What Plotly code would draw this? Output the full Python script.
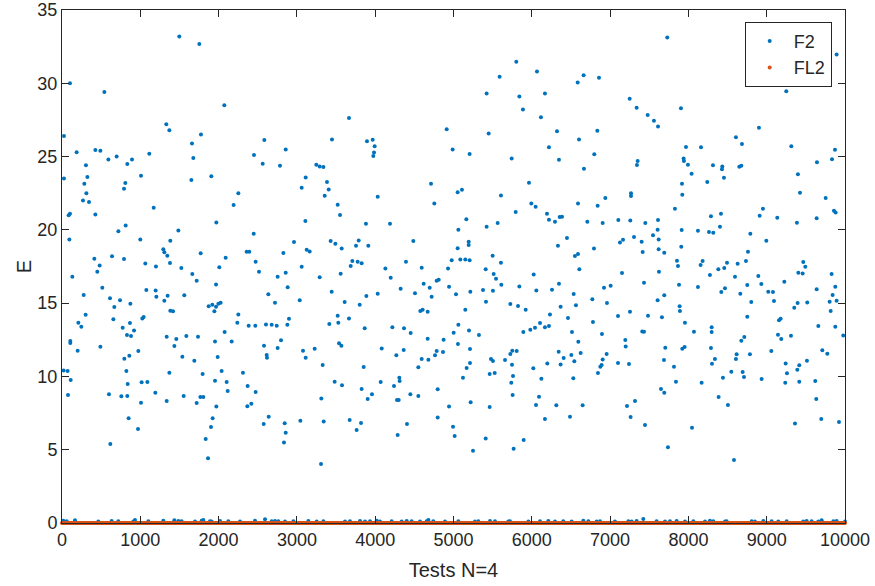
import plotly.graph_objects as go

# ---------------- data ----------------
# F2 scatter, region by region (x = test index, y = E)
f2_tests_a = [1498, 1754, 102, 541, 2073, 1332, 1371, 1775, 25, 1660,
              187, 426, 490, 2452, 698, 1115, 592, 894, 306, 834,
              1677, 25, 324, 1009, 1652, 1907, 285, 809, 792, 311,
              2252, 268, 345, 2192, 1171, 85, 102, 426, 1971, 813,
              720, 1486, 2448, 94, 1000, 1383, 1294, 1307, 1345, 1771,
              2358, 2392, 413, 639, 792, 2090, 2473, 481, 1064, 1200,
              1379, 1524, 2009]
f2_values_a = [33.2, 32.68, 30.0, 29.4, 28.5, 27.2, 26.8, 26.5, 26.4, 25.9,
               25.3, 25.45, 25.4, 25.1, 25.0, 25.2, 24.8, 24.8, 24.4, 24.5,
               24.9, 23.5, 23.6, 23.7, 23.4, 23.65, 23.15, 23.2, 22.8, 22.5,
               22.5, 22.0, 21.9, 21.7, 21.5, 21.0, 21.1, 21.04, 20.5, 20.3,
               19.9, 19.95, 19.74, 19.35, 19.35, 19.26, 18.67, 18.47, 18.24, 18.4,
               18.5, 18.5, 18.03, 18.2, 18.01, 18.1, 17.83, 17.56, 17.7, 17.5,
               17.74, 17.4, 17.45]

f2_tests_b = [2516, 132, 451, 1664, 1720, 515, 277, 1077, 1196, 1205,
              1349, 1562, 1967, 613, 741, 873, 1307, 668, 1383, 1418,
              1873, 1920, 1967, 1997, 2026, 1946, 302, 1026, 1043, 656,
              2252, 2239, 2384, 2469, 209, 247, 868, 775, 920, 830,
              881, 1337, 1460, 1588, 1737, 2077, 106, 106, 490, 1435,
              1954, 2167, 200, 975, 860, 796, 1537, 1690, 1988, 21,
              72, 111, 822, 1371, 1796, 2039, 2311, 1954, 2103, 1017,
              1090, 839, 2371, 2116, 2473, 77, 600, 1192, 758, 834,
              1554, 1767, 1805, 1337, 1720, 1009, 2418, 2367, 1971, 1924,
              851, 1903, 971, 1835, 617, 1865]
f2_values_b = [17.15, 16.8, 17.15, 16.99, 16.53, 16.05, 15.55, 15.9, 15.87, 15.44,
               15.5, 15.53, 16.28, 15.33, 15.2, 14.96, 15.17, 14.73, 14.48, 14.44,
               14.78, 14.89, 14.76, 14.96, 15.03, 14.44, 14.21, 13.96, 14.05, 13.9,
               14.23, 13.67, 13.46, 13.46, 13.67, 13.39, 13.64, 13.32, 13.14, 12.82,
               12.76, 12.71, 12.55, 12.76, 12.71, 13.03, 12.42, 12.28, 12.03, 12.07,
               12.39, 12.39, 11.76, 11.73, 11.41, 11.21, 11.35, 11.07, 11.32, 10.41,
               10.37, 9.75, 10.37, 10.25, 10.16, 10.37, 10.25, 9.71, 9.62, 9.6,
               9.62, 9.48, 9.35, 9.0, 8.94, 8.73, 8.78, 8.89, 8.64, 8.66,
               8.66, 8.6, 8.6, 8.32, 8.19, 8.21, 8.14, 7.96, 7.94, 7.14,
               7.14, 6.55, 6.41, 5.73, 5.39, 4.41]

f2_tests_c = [3665, 4913, 2584, 3448, 3895, 3968, 3993, 3985, 3976, 2857,
              4989, 2563, 2784, 3248, 3291, 3338, 3112, 3384, 3061, 3406,
              3355, 4032, 4713, 5053, 4755, 3521, 3551, 3108, 3882, 4189,
              5062, 2963, 3431, 3491, 3789, 3755, 3912, 4487, 3572, 3125,
              3163, 2827, 5053, 3061, 3687, 3708, 3776, 3827, 4130, 4393,
              4594, 4930, 4977]
f2_values_c = [27.63, 26.86, 26.13, 26.17, 26.04, 26.15, 25.7, 25.27, 25.04, 25.49,
               25.49, 24.51, 24.38, 24.45, 24.33, 24.29, 23.58, 23.26, 22.88, 22.76,
               22.33, 22.26, 23.15, 22.56, 21.79, 21.72, 21.01, 20.6, 20.42, 20.42,
               20.01, 19.17, 19.24, 19.06, 19.28, 18.92, 18.92, 19.24, 18.72, 18.65,
               18.53, 18.42, 18.74, 17.49, 17.53, 17.87, 17.83, 17.72, 17.37, 17.83,
               17.42, 17.37, 17.92]

f2_tests_d = [2857, 2754, 3291, 3559, 4198, 4619, 4785, 4811, 4943,
              2882, 2635, 3444, 3887, 4032, 4325, 4508, 4696, 4721, 5032,
              2720, 3036, 3610, 3802, 4576, 4606, 4670, 3521, 3665, 2899,
              2605, 2678, 2742, 2878, 3414, 3529, 3866, 4219, 4368,
              4453, 5062, 5002, 5057, 4670, 4874, 2580, 2797, 2754, 3538,
              3568, 3078, 3227, 2614, 2618, 3112, 4083, 4364, 4270, 4594,
              4679, 4764, 4785, 4866, 3329, 3853, 4551, 4308, 4312, 3482,
              3576, 4070, 4240, 3827, 4798, 3959, 3904, 4449, 4551,
              3312, 4278, 4300, 4943, 2640, 2576, 2844, 3044, 3342, 3674,
              3819, 4798, 4994, 5015, 2857, 3763, 4406, 4287, 2835, 3308]
f2_values_d = [17.08, 16.8, 16.76, 17.01, 16.74, 16.33, 16.53, 16.6, 16.12,
               16.08, 15.6, 15.78, 15.49, 15.64, 15.99, 15.67, 16.05, 15.44, 15.6,
               15.03, 15.19, 15.08, 14.89, 14.46, 14.55, 14.42, 14.14, 13.96, 13.94,
               13.55, 13.53, 13.46, 13.53, 13.57, 13.67, 13.28, 13.35, 13.28,
               12.96, 13.53, 12.98, 12.21, 12.57, 12.51, 12.1, 12.46, 11.94, 12.26,
               12.1, 11.76, 11.89, 11.46, 11.28, 11.28, 11.91, 11.8, 11.44, 11.19,
               11.14, 11.44, 11.73, 11.66, 10.78, 10.64, 10.62, 9.91, 9.69, 9.64,
               9.39, 9.62, 9.35, 9.14, 9.12, 8.78, 8.46, 8.78, 8.66,
               8.5, 8.39, 8.39, 7.94, 7.25, 6.75, 6.8, 6.98, 6.93, 7.03,
               6.82, 7.19, 6.57, 5.93, 6.16, 6.34, 6.75, 6.0, 5.5, 4.02]

f2_tests_e = [5802, 5589, 6066, 5423, 5841, 6168, 6586, 6662, 6858, 7250,
              7339, 7480, 7560, 7612, 5887, 6117, 5449, 6322, 6603, 6837,
              6219, 5206, 5743, 6347, 6798, 6666, 7352, 7343, 5964, 5108,
              5606, 7267, 7267, 6939, 5994, 6049, 6590, 6841, 5794, 6194,
              5164, 6219, 6296, 6356, 6386, 6709, 6905, 7105, 7258, 7450,
              7612, 5423, 5564, 7607, 5194, 5194, 6449, 6334, 7126, 7165,
              7305, 7403, 7548, 7620, 6794, 7620, 5500, 6551, 6590, 7416,
              5087, 5151, 5206, 5606, 5411, 6607]
f2_values_e = [31.47, 30.45, 30.81, 29.31, 29.09, 29.31, 30.06, 30.54, 30.38, 28.95,
               28.33, 27.83, 27.45, 27.06, 28.22, 27.68, 26.58, 26.72, 26.17, 26.77,
               25.63, 25.17, 24.86, 24.79, 25.15, 24.17, 24.7, 24.42, 23.22, 22.74,
               22.35, 22.49, 22.31, 22.17, 21.79, 21.58, 21.79, 21.65, 21.22, 21.1,
               20.72, 20.69, 20.56, 20.88, 20.9, 20.56, 20.47, 20.67, 20.63, 20.47,
               20.67, 20.22, 20.47, 20.01, 19.19, 18.97, 19.44, 18.92, 19.13, 19.33,
               19.51, 19.19, 19.63, 19.35, 18.72, 18.67, 18.24, 18.22, 18.35, 18.49,
               17.97, 17.97, 17.92, 17.76, 17.31, 17.31]

f2_tests_f = [5513, 5543, 6024, 7152, 7624, 5611, 7433, 5215, 5377, 5504,
              5841, 6058, 6258, 6347, 6535, 6922, 7007, 6773, 6960, 7607,
              5415, 5726, 5824, 5922, 6368, 6564, 7254, 5151, 6232, 6462,
              7101, 7484, 6781, 6105, 6041, 5981, 5892, 6168, 6219, 5198,
              5325, 6513, 6896, 7411, 7433, 5211, 6594, 7194, 7199, 5726,
              5751, 5807, 6343, 6505, 6624, 6956, 5479, 5504, 5658, 6407,
              6543, 6905, 5211, 5747, 6198, 6368, 7101, 7241, 6892, 6875,
              5168, 6019, 5462, 5526, 6845, 5121, 5760, 5738, 6122, 6530,
              5755, 6092, 5219, 5462, 6054, 6313, 6649, 7216, 7318, 6168,
              6488, 7262, 7446, 5411, 5896, 5249, 5768]
f2_values_f = [16.99, 16.67, 16.96, 17.05, 17.15, 16.26, 16.39, 15.78, 15.89, 15.85,
               16.14, 15.87, 15.92, 16.33, 15.62, 16.05, 16.19, 15.26, 15.01, 15.19,
               15.1, 14.94, 14.8, 14.55, 14.76, 14.85, 14.42, 14.55, 14.23, 13.98,
               14.12, 14.14, 13.71, 13.64, 13.32, 13.19, 13.03, 13.35, 13.44, 13.14,
               12.82, 13.03, 12.89, 13.07, 13.05, 11.87, 12.37, 12.48, 12.05, 11.53,
               11.76, 11.73, 11.69, 11.46, 11.6, 11.53, 11.19, 11.05, 11.12, 11.26,
               11.03, 11.16, 10.91, 10.8, 10.89, 10.82, 10.91, 10.85, 10.78, 10.66,
               10.57, 10.55, 10.16, 10.23, 10.23, 9.91, 10.03, 9.57, 9.85, 9.87,
               8.73, 8.62, 8.23, 7.91, 8.05, 8.03, 8.03, 7.98, 8.32, 7.09,
               7.25, 7.23, 6.68, 5.77, 5.66, 4.93, 5.07]

f2_tests_g = [7730, 9893, 9250, 7905, 8901, 8607, 8684, 7969, 8161, 9314,
              9872, 9834, 9642, 7939, 7943, 7994, 8314, 8433, 8429, 8454,
              8650, 8676, 8041, 9399, 7918, 8241, 7922, 9425, 9753, 7828,
              8952, 9859, 9880, 8288, 8416, 8910, 9135, 9638, 9386, 7914,
              8122, 8263, 8318, 8403, 8791, 8995, 7909, 7692, 8761, 7854,
              7867, 8156, 8182, 8493, 8382, 8458, 8629, 8735, 9467, 9493]
f2_values_g = [33.13, 31.97, 29.45, 28.29, 26.97, 26.31, 25.86, 25.65, 25.63, 25.7,
               25.47, 24.81, 24.61, 24.86, 24.7, 24.45, 24.4, 24.33, 24.13, 23.56,
               24.31, 24.38, 23.83, 23.79, 23.15, 23.26, 22.4, 22.54, 22.17, 21.44,
               21.44, 21.31, 21.19, 20.92, 21.1, 20.97, 20.83, 20.79, 20.49, 19.99,
               19.94, 19.85, 19.81, 20.22, 19.74, 19.26, 18.85, 18.44, 18.51, 17.9,
               17.53, 17.6, 17.87, 17.76, 17.31, 17.4, 17.69, 17.87, 17.81, 17.49]

f2_tests_h = [8275, 8595, 8893, 9225, 9404, 9459, 9829, 7880, 8122, 8752,
              8931, 9876, 9638, 8420, 8467, 9020, 9080, 7692, 8663, 8803,
              9093, 9395, 9518, 9804, 9893, 9842, 7888, 7892, 9352, 9817,
              7662, 8752, 9157, 9178, 7956, 9659, 9876, 8297, 8297, 8071,
              9144, 9310, 9186, 9978, 8714, 8676, 7705, 7922, 7952, 8288,
              9059, 9710, 9774, 7688, 8339, 8301, 8616, 8607, 8786, 7816,
              9242, 9416, 9514, 9259, 9391, 8548, 8693, 8710, 8441, 8935,
              7841, 8169, 9237, 9416, 9620, 7650, 7692, 8386, 8505, 9633,
              9697, 9923, 9361, 8046, 7739, 8582]
f2_values_h = [16.92, 16.8, 16.85, 16.46, 17.08, 17.03, 16.99, 16.26, 16.1, 16.24,
               16.3, 16.12, 15.94, 15.76, 16.01, 15.78, 15.76, 15.53, 15.64, 15.08,
               15.14, 15.01, 15.05, 15.1, 15.17, 15.55, 14.78, 14.46, 14.69, 14.46,
               14.03, 14.08, 13.83, 13.94, 13.67, 13.44, 13.39, 13.35, 13.03, 13.05,
               12.85, 12.78, 12.55, 12.8, 12.69, 12.44, 11.96, 11.89, 12.01, 11.94,
               11.73, 11.78, 11.55, 11.12, 11.19, 10.87, 11.51, 11.19, 11.51, 10.66,
               10.89, 10.76, 11.07, 10.21, 10.46, 10.32, 10.3, 9.96, 9.91, 9.82,
               9.64, 9.57, 9.57, 9.64, 9.69, 9.14, 8.89, 8.6, 8.05, 8.46,
               7.09, 6.89, 6.78, 6.5, 5.16, 4.3]

# F2 tests whose E is (almost) zero, visible just above the FL2 band
f2_tests_zero = [17, 60, 166, 464, 634, 719, 911, 932, 1103, 1294,
                 1435, 1486, 1528, 1699, 1784, 1805, 1890, 1911, 2018, 2124,
                 2273, 2465, 2593, 2678, 2720, 2763, 2848, 2955, 3146, 3253,
                 3338, 3614, 3678, 3806, 3870, 3934, 4019, 4061, 4210, 4338,
                 4402, 4466, 4572, 4657, 4679, 4742, 4891, 5062, 5274, 5317,
                 5466, 5530, 5700, 5721, 5956, 6105, 6211, 6296, 6402, 6509,
                 6658, 6722, 6828, 6871, 7062, 7233, 7275, 7339, 7424, 7594,
                 7701, 7765, 7850, 7956, 8063, 8212, 8275, 8318, 8467, 8488,
                 8808, 8850, 8957, 9063, 9148, 9255, 9467, 9510, 9574, 9659,
                 9702, 9851, 9893, 10000]
f2_values_zero = [0.15, 0.12, 0.18, 0.1, 0.14, 0.12, 0.1, 0.2, 0.12, 0.15,
                  0.18, 0.14, 0.12, 0.1, 0.16, 0.2, 0.12, 0.1, 0.14, 0.12,
                  0.1, 0.15, 0.25, 0.12, 0.14, 0.12, 0.1, 0.12, 0.14, 0.1,
                  0.12, 0.1, 0.12, 0.14, 0.1, 0.12, 0.16, 0.1, 0.12, 0.1,
                  0.14, 0.12, 0.1, 0.12, 0.2, 0.12, 0.1, 0.12, 0.1, 0.12,
                  0.14, 0.12, 0.1, 0.12, 0.1, 0.12, 0.14, 0.1, 0.12, 0.1,
                  0.16, 0.12, 0.1, 0.12, 0.1, 0.12, 0.1, 0.14, 0.28, 0.12,
                  0.1, 0.12, 0.14, 0.1, 0.12, 0.1, 0.16, 0.12, 0.1, 0.12,
                  0.12, 0.1, 0.14, 0.12, 0.1, 0.12, 0.1, 0.14, 0.12, 0.1,
                  0.18, 0.12, 0.14, 0.1]

# FL2: every test sits at E = 0
fl2_tests = list(range(0, 10001, 10))
fl2_values = [0.0] * len(fl2_tests)

x_ticks = [0, 1000, 2000, 3000, 4000, 5000, 6000, 7000, 8000, 9000, 10000]
y_ticks = [0, 5, 10, 15, 20, 25, 30, 35]

# ---------------- assemble ----------------
f2_tests = (f2_tests_zero + f2_tests_a + f2_tests_b + f2_tests_c + f2_tests_d
            + f2_tests_e + f2_tests_f + f2_tests_g + f2_tests_h)
f2_values = (f2_values_zero + f2_values_a + f2_values_b + f2_values_c + f2_values_d
             + f2_values_e + f2_values_f + f2_values_g + f2_values_h)

BLUE = "#0072BD"
ORANGE = "#D95319"
INK = "#262626"
FONT = "Liberation Sans, Arial, sans-serif"

fig = go.Figure()
fig.add_trace(go.Scatter(
    x=f2_tests, y=f2_values, mode="markers", name="F2",
    marker=dict(color=BLUE, size=4, line=dict(width=0)),
    cliponaxis=False,
))
fig.add_trace(go.Scatter(
    x=fl2_tests, y=fl2_values, mode="markers", name="FL2",
    marker=dict(color=ORANGE, size=4, line=dict(width=0)),
    cliponaxis=False,
))

axis_common = dict(
    showline=True, linecolor=INK, linewidth=1, mirror="ticks",
    ticks="inside", ticklen=7, tickwidth=1, tickcolor=INK,
    showgrid=False, zeroline=False,
    tickfont=dict(family=FONT, size=18, color=INK),
)

fig.update_layout(
    width=875, height=586,
    paper_bgcolor="white", plot_bgcolor="white",
    margin=dict(l=62, r=30, t=10, b=63, autoexpand=False),
    font=dict(family=FONT, color=INK),
    showlegend=True,
    legend=dict(
        x=0.983, y=0.977, xanchor="right", yanchor="top",
        bgcolor="white", bordercolor=INK, borderwidth=1,
        font=dict(family=FONT, size=18, color=INK),
        itemsizing="trace", itemwidth=38,
    ),
    xaxis=dict(
        range=[0, 10000], tickvals=x_ticks, ticktext=[str(v) for v in x_ticks],
        title=dict(text="Tests N=4", font=dict(family=FONT, size=20, color=INK), standoff=14),
        **axis_common,
    ),
    yaxis=dict(
        range=[0, 35], tickvals=y_ticks, ticktext=[str(v) for v in y_ticks],
        title=dict(text="E", font=dict(family=FONT, size=20, color=INK), standoff=0),
        **axis_common,
    ),
)

# remove the default 8px page margin so the figure sits at the window's corner
fig.write_html("out.html", config={"displayModeBar": False},
               post_script="document.body.style.margin='0';")
